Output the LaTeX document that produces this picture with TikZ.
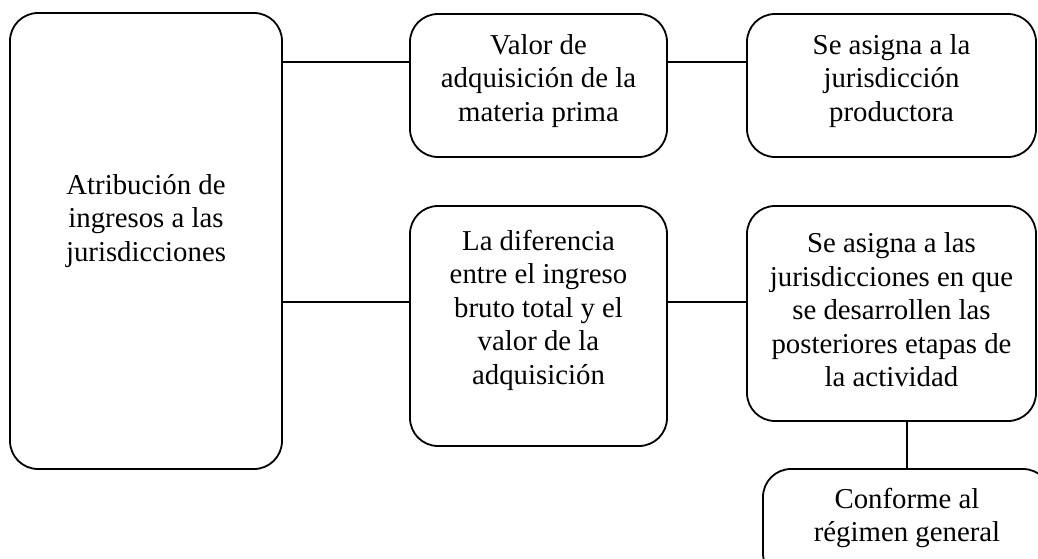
\documentclass[tikz,border=0pt]{standalone}
\usepackage{fontspec}
\setmainfont{Liberation Serif}
\begin{document}
\begin{tikzpicture}[x=1pt,y=-1pt,
  box/.style={draw=black, line width=1.8pt, rounded corners=28pt, inner sep=0pt},
  txt/.style={align=center, inner sep=0pt, font=\fontsize{28.8}{33.5}\selectfont},
  conn/.style={draw=black, line width=1.8pt}]
\useasboundingbox (0,0) rectangle (1038,559);
\clip (0,0) rectangle (1038,559);
% boxes
\node[box, minimum width=272pt, minimum height=456pt] (A) at (146,241) {};
\node[box, minimum width=257pt, minimum height=143pt] (B) at (538.5,85.5) {};
\node[box, minimum width=289pt, minimum height=143pt] (C) at (891.5,85.5) {};
\node[box, minimum width=257pt, minimum height=240pt] (D) at (538.5,326) {};
\node[box, minimum width=289pt, minimum height=215pt] (E) at (891.5,313.5) {};
\node[box, minimum width=288pt, minimum height=112pt] (F) at (907,525) {};
% texts
\node[txt] (At) at (146,221) {Atribución de\\ingresos a las\\jurisdicciones};
\node[txt] (Bt) at (538.5,81) {Valor de\\adquisición de la\\materia prima};
\node[txt] (Ct) at (891.5,81) {Se asigna a la\\jurisdicción\\productora};
\node[txt] (Dt) at (538.5,310) {La diferencia\\entre el ingreso\\bruto total y el\\valor de la\\adquisición};
\node[txt] (Et) at (891.5,310) {Se asigna a las\\jurisdicciones en que\\se desarrollen las\\posteriores etapas de\\la actividad};
\node[txt] (Ft) at (907,518) {Conforme al\\régimen general};
% connector levels
\coordinate (l1) at (0,62);
\coordinate (l2) at (0,302);
\coordinate (v) at (907,0);
\draw[conn] (A.east |- l1) -- (B.west |- l1);
\draw[conn] (B.east |- l1) -- (C.west |- l1);
\draw[conn] (A.east |- l2) -- (D.west |- l2);
\draw[conn] (D.east |- l2) -- (E.west |- l2);
\draw[conn] (E.south -| v) -- (F.north -| v);
\end{tikzpicture}
\end{document}
